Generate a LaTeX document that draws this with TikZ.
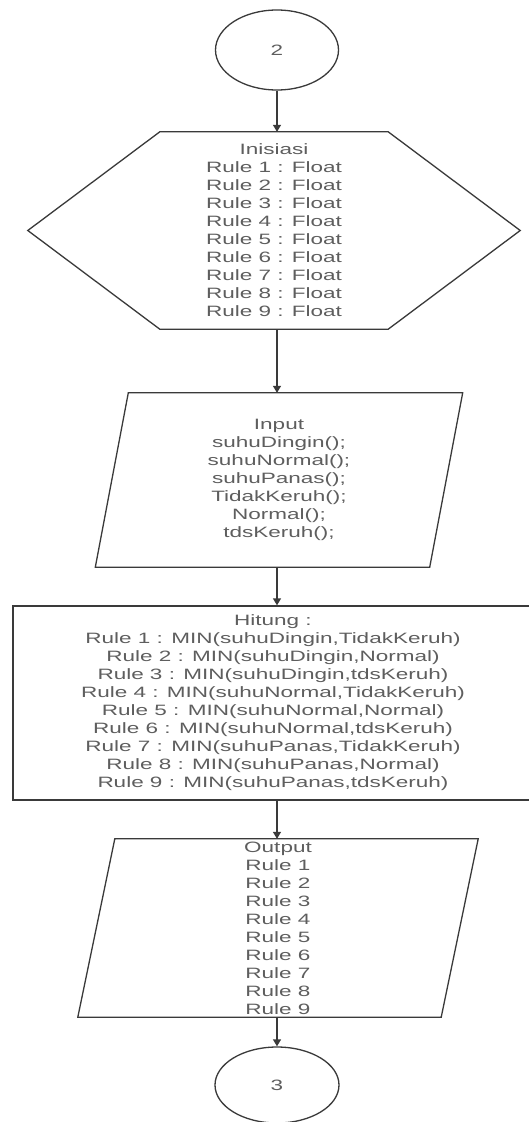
\documentclass[tikz,border=0pt]{standalone}
\usepackage{fontspec}
\newfontfamily\lab{Liberation Sans}[FakeStretch=1.5]
\usetikzlibrary{arrows.meta,shapes.geometric}
\definecolor{linegray}{HTML}{3A3A3A}
\definecolor{txtgray}{HTML}{5E5E5E}
\begin{document}
\begin{tikzpicture}[x=1pt,y=-1pt,
  lbl/.style={font=\lab\fontsize{15}{18}\selectfont, text=txtgray, align=center, inner sep=0pt},
  frame/.style={draw=linegray, line width=1.3pt},
  conn/.style={draw=linegray, line width=1.3pt, -{Triangle[width=8pt,length=7pt]}}]
\useasboundingbox (0,0) rectangle (529,1122);
\fill[white] (0,0) rectangle (529,1122);

\node[lbl, ellipse, frame, minimum width=123pt, minimum height=80pt] (c2) at (277,50) {2};

\node[lbl, minimum width=492pt, minimum height=197pt] (hex) at (274,230.5)
  {Inisiasi\\Rule 1 : Float\\Rule 2 : Float\\Rule 3 : Float\\Rule 4 : Float\\Rule 5 : Float\\Rule 6 : Float\\Rule 7 : Float\\Rule 8 : Float\\Rule 9 : Float};
\draw[frame] (hex.west) -- ([xshift=132pt]hex.north west) -- ([xshift=-132pt]hex.north east)
  -- (hex.east) -- ([xshift=-132pt]hex.south east) -- ([xshift=132pt]hex.south west) -- cycle;

\node[lbl, minimum width=367pt, minimum height=174pt] (in) at (279,480)
  {Input\\suhuDingin();\\suhuNormal();\\suhuPanas();\\TidakKeruh();\\Normal();\\tdsKeruh();};
\draw[frame] ([xshift=33pt]in.north west) -- (in.north east) -- ([xshift=-33pt]in.south east)
  -- (in.south west) -- cycle;

\node[lbl, frame, minimum width=520pt, minimum height=194pt] (hit) at (273,703)
  {Hitung :\\Rule 1 : MIN(suhuDingin,TidakKeruh)\\Rule 2 : MIN(suhuDingin,Normal)\\Rule 3 : MIN(suhuDingin,tdsKeruh)\\Rule 4 : MIN(suhuNormal,TidakKeruh)\\Rule 5 : MIN(suhuNormal,Normal)\\Rule 6 : MIN(suhuNormal,tdsKeruh)\\Rule 7 : MIN(suhuPanas,TidakKeruh)\\Rule 8 : MIN(suhuPanas,Normal)\\Rule 9 : MIN(suhuPanas,tdsKeruh)};

\node[lbl, minimum width=400pt, minimum height=178pt] (out) at (278,928)
  {Output\\Rule 1\\Rule 2\\Rule 3\\Rule 4\\Rule 5\\Rule 6\\Rule 7\\Rule 8\\Rule 9};
\draw[frame] ([xshift=37pt]out.north west) -- (out.north east) -- ([xshift=-37pt]out.south east)
  -- (out.south west) -- cycle;

\node[lbl, ellipse, frame, minimum width=124pt, minimum height=76pt] (c3) at (277,1085) {3};

\draw[conn] (c2.south) -- (hex.north -| c2.south);
\draw[conn] (hex.south -| c2.south) -- (in.north -| c2.south);
\draw[conn] (in.south -| c2.south) -- (hit.north -| c2.south);
\draw[conn] (hit.south -| c2.south) -- (out.north -| c2.south);
\draw[conn] (out.south -| c2.south) -- (c3.north);
\end{tikzpicture}
\end{document}
